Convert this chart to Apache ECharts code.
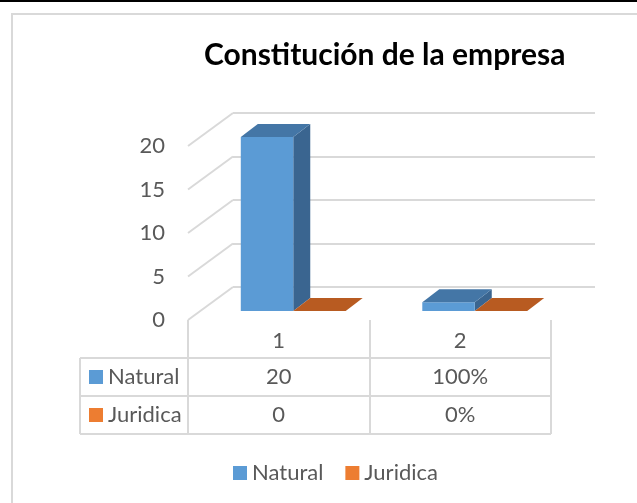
<!DOCTYPE html>
<html><head><meta charset="utf-8">
<script src="https://cdn.jsdelivr.net/npm/echarts@6/dist/echarts.min.js"></script>
<style>html,body{margin:0;padding:0;background:#fff}#c{width:637px;height:503px}</style>
</head><body><div id="c"></div>
<script>
// ---- data ----
const categories = ['1', '2'];
const seriesNames = ['Natural', 'Juridica'];
const naturalValues = [20, 1];
const juridicaValues = [0, 0];
const naturalTableLabels = ['20', '100%'];
const juridicaTableLabels = ['0', '0%'];
const yTickValues = [0, 5, 10, 15, 20];
const yMin = 0, yMax = 20, yInterval = 5;

// ---- styles ----
const FONT = 'Lato';
const TEXT = '#595959';
const GRID = '#d9d9d9';
const FS = 22;
const DX = 45, DY = 33;   // side wall depth
const BDX = 17, BDY = 13; // bar depth
const palette = [
  { front: '#5B9BD5', top: '#4476A6', side: '#3A6590' },
  { front: '#ED7D31', top: '#B85B21', side: '#A9521D' }
];
const valuesBySeries = [naturalValues, juridicaValues];
const tableLabelsBySeries = [naturalTableLabels, juridicaTableLabels];

function barRender(s) {
  return function (params, api) {
    const i = api.value(0), v = api.value(1);
    const top = api.coord([i, v]);
    const base = api.coord([i, 0]);
    const band = api.size([1, 0])[0];
    const bw = band * 0.289;
    const x0 = s === 0 ? top[0] - bw : top[0];
    const x1 = x0 + bw;
    const yt = top[1], yb = base[1];
    const c = palette[s];
    return {
      type: 'group',
      children: [
        { type: 'polygon', shape: { points: [[x1, yt], [x1 + BDX, yt - BDY], [x1 + BDX, yb - BDY], [x1, yb]] }, style: { fill: c.side } },
        { type: 'rect', shape: { x: x0, y: yt, width: bw, height: yb - yt }, style: { fill: c.front } },
        { type: 'polygon', shape: { points: [[x0, yt], [x1, yt], [x1 + BDX, yt - BDY], [x0 + BDX, yt - BDY]] }, style: { fill: c.top } }
      ]
    };
  };
}

const yAxisBase = { type: 'value', min: yMin, max: yMax, interval: yInterval };

const option = {
  animation: false,
  textStyle: { fontFamily: FONT },
  graphic: [
    { type: 'rect', shape: { x: 0, y: 0, width: 637, height: 2 }, style: { fill: '#000' }, z: 10 },
    { type: 'rect', shape: { x: 12, y: 14, width: 640, height: 500 }, style: { fill: 'none', stroke: GRID, lineWidth: 2 }, z: 10 }
  ],
  title: {
    text: 'Constitución de la empresa',
    left: 204, top: 40, padding: 0,
    textStyle: { fontFamily: FONT, fontSize: 30, fontWeight: 'bold', color: '#000' }
  },
  legend: {
    data: seriesNames,
    left: 233, top: 462, padding: 0,
    icon: 'rect', itemWidth: 14, itemHeight: 14, itemGap: 22,
    textStyle: { fontFamily: FONT, fontSize: FS, color: TEXT }
  },
  grid: [
    { left: 188, top: 146, width: 363, height: 174 },   // front plane
    { left: 233, top: 113, width: 362, height: 174 },   // back wall
    { left: 202.5, top: 137, width: 363, height: 174 }  // bar plane
  ],
  xAxis: [
    {
      type: 'category', data: categories, gridIndex: 0,
      axisLine: { show: false },
      axisTick: { show: true, length: 114, lineStyle: { color: GRID, width: 2 } },
      axisLabel: { fontFamily: FONT, fontSize: FS, color: TEXT, margin: 10 }
    },
    { type: 'category', data: categories, gridIndex: 1, show: false },
    { type: 'category', data: categories, gridIndex: 2, show: false }
  ],
  yAxis: [
    Object.assign({}, yAxisBase, {
      gridIndex: 0,
      axisLine: { show: false }, axisTick: { show: false }, splitLine: { show: false },
      axisLabel: { fontFamily: FONT, fontSize: FS, color: TEXT, margin: 23 }
    }),
    Object.assign({}, yAxisBase, {
      gridIndex: 1,
      axisLine: { show: false }, axisTick: { show: false }, axisLabel: { show: false },
      splitLine: { show: true, lineStyle: { color: GRID, width: 2 } }
    }),
    Object.assign({}, yAxisBase, { gridIndex: 2, show: false })
  ],
  series: [
    // side wall diagonals
    {
      type: 'custom', xAxisIndex: 0, yAxisIndex: 0, silent: true,
      data: yTickValues.map(v => [0, v]),
      renderItem: function (params, api) {
        const p = api.coord([0, api.value(1)]);
        const x = params.coordSys.x;
        return { type: 'line', shape: { x1: x, y1: p[1], x2: x + DX, y2: p[1] - DY }, style: { stroke: GRID, lineWidth: 2 } };
      }
    },
    // bars
    ...seriesNames.map((name, s) => ({
      type: 'custom', name: name, xAxisIndex: 2, yAxisIndex: 2,
      itemStyle: { color: palette[s].front },
      data: valuesBySeries[s].map((v, i) => [i, v]),
      renderItem: barRender(s)
    })),
    // data table values
    {
      type: 'custom', xAxisIndex: 0, yAxisIndex: 0, silent: true,
      data: categories.map((c, i) => [i, 0]),
      renderItem: function (params, api) {
        const i = api.value(0);
        const x = api.coord([i, 0])[0];
        const yb = params.coordSys.y + params.coordSys.height;
        return {
          type: 'group',
          children: tableLabelsBySeries.map((labels, s) => ({
            type: 'text',
            style: { text: labels[i], x: x, y: yb + 57 + s * 38, align: 'center', verticalAlign: 'middle', fontFamily: FONT, fontSize: FS, fill: TEXT }
          }))
        };
      }
    },
    // data table frame + legend keys
    {
      type: 'custom', xAxisIndex: 0, yAxisIndex: 0, silent: true,
      data: [[0, 0]],
      renderItem: function (params, api) {
        const cs = params.coordSys;
        const left = cs.x - 108, right = cs.x + cs.width;
        const yb = cs.y + cs.height;
        const rows = [yb + 38, yb + 76, yb + 114];
        const children = [];
        rows.forEach(y => children.push({ type: 'line', shape: { x1: left, y1: y, x2: right, y2: y }, style: { stroke: GRID, lineWidth: 2 } }));
        children.push({ type: 'line', shape: { x1: left, y1: rows[0], x2: left, y2: rows[2] }, style: { stroke: GRID, lineWidth: 2 } });
        seriesNames.forEach((name, s) => {
          const cy = (rows[s] + rows[s + 1]) / 2;
          children.push({ type: 'rect', shape: { x: left + 9, y: cy - 7, width: 14, height: 14 }, style: { fill: palette[s].front } });
          children.push({ type: 'text', style: { text: name, x: left + 28, y: cy, align: 'left', verticalAlign: 'middle', fontFamily: FONT, fontSize: FS, fill: TEXT } });
        });
        return { type: 'group', children };
      }
    }
  ]
};

const chart = echarts.init(document.getElementById('c'), null, { renderer: 'canvas' });
chart.setOption(option);
</script>
</body></html>
